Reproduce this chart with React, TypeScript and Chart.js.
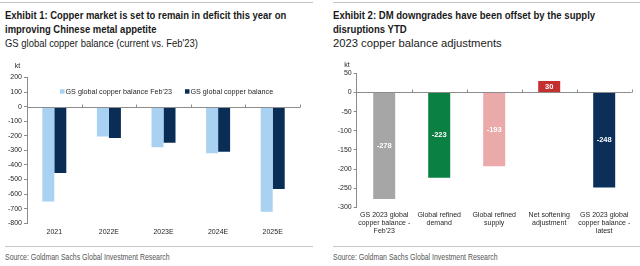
import React, { useEffect, useRef } from "react";
import { Chart, registerables } from "chart.js";

Chart.register(...registerables);

// ---- Exhibit 1: global copper balance by year (kt)
const balanceYears = ["2021", "2022E", "2023E", "2024E", "2025E"];
const balanceFeb23 = [-650, -205, -278, -320, -720];
const balanceCurrent = [-455, -215, -248, -310, -565];
const balanceSeriesNames = ["GS global copper balance Feb'23", "GS global copper balance"];

// ---- Exhibit 2: 2023 copper balance adjustments (kt)
const adjustmentLabels = [
  ["GS 2023 global", "copper balance -", "Feb'23"],
  ["Global refined", "demand"],
  ["Global refined", "supply"],
  ["Net softening", "adjustment"],
  ["GS 2023 global", "copper balance -", "latest"],
];
const adjustmentValues = [-278, -223, -193, 30, -248];

const ADJ_COLORS = ["#A6A6A6", "#0B8043", "#EAAAAA", "#C4302E", "#0B2F59"];
const FEB_COLOR = "#A9D2F2";
const CUR_COLOR = "#0A2D55";

const SANS = "'Liberation Sans', Arial, sans-serif";
const AXIS_COLOR = "#8C8C8C";
const TEXT_COLOR = "#262626";

// Horizontal zero line with small category tick marks
const zeroLine = {
  id: "zeroLine",
  afterDatasetsDraw(chart: any, _args: any, opts: any) {
    const { ctx, chartArea, scales } = chart;
    const y = Math.round(scales.y.getPixelForValue(0)) + 0.5;
    const n = chart.data.labels.length;
    const w = (chartArea.right - chartArea.left) / n;
    ctx.save();
    ctx.strokeStyle = opts.color || AXIS_COLOR;
    ctx.lineWidth = 1;
    ctx.beginPath();
    ctx.moveTo(chartArea.left, y);
    ctx.lineTo(chartArea.right, y);
    for (let i = 1; i <= n; i++) {
      const x = Math.round(chartArea.left + i * w) + 0.5;
      ctx.moveTo(x, y);
      ctx.lineTo(x, y - 3);
    }
    ctx.stroke();
    ctx.restore();
  },
};

// Unit caption above the value axis
const unitLabel = {
  id: "unitLabel",
  afterDraw(chart: any, _args: any, opts: any) {
    if (!opts.text) return;
    const { ctx, chartArea } = chart;
    ctx.save();
    ctx.font = `7px ${SANS}`;
    ctx.fillStyle = TEXT_COLOR;
    ctx.textAlign = "center";
    ctx.textBaseline = "middle";
    ctx.fillText(opts.text, chartArea.left + opts.dx, chartArea.top + opts.dy);
    ctx.restore();
  },
};

// Inline legend drawn inside the plot area
const innerLegend = {
  id: "innerLegend",
  afterDraw(chart: any, _args: any, opts: any) {
    if (!opts.show) return;
    const { ctx, chartArea } = chart;
    ctx.save();
    ctx.font = `7.2px ${SANS}`;
    ctx.textBaseline = "middle";
    let x = chartArea.left + opts.dx;
    const y = chartArea.top + opts.dy;
    chart.data.datasets.forEach((ds: any) => {
      ctx.fillStyle = ds.backgroundColor;
      ctx.fillRect(x, y - 2.5, 4.5, 4.5);
      x += 5.5;
      ctx.fillStyle = TEXT_COLOR;
      ctx.fillText(ds.label, x, y);
      x += ctx.measureText(ds.label).width + 13;
    });
    ctx.restore();
  },
};

// White value labels centred inside each bar
const barValues = {
  id: "barValues",
  afterDatasetsDraw(chart: any, _args: any, opts: any) {
    if (!opts.show) return;
    const { ctx } = chart;
    ctx.save();
    ctx.font = `bold 7.5px ${SANS}`;
    ctx.fillStyle = "#FFFFFF";
    ctx.textAlign = "center";
    ctx.textBaseline = "middle";
    chart.data.datasets.forEach((ds: any, di: number) => {
      chart.getDatasetMeta(di).data.forEach((bar: any, i: number) => {
        ctx.fillText(String(ds.data[i]), bar.x, (bar.y + bar.base) / 2);
      });
    });
    ctx.restore();
  },
};

function axisOptions(opts: {
  min: number;
  max: number;
  step: number;
  yWidth: number;
  xHeight: number;
  xPadding: number;
  lineHeight: number;
}) {
  return {
    x: {
      grid: { display: false, drawTicks: false },
      border: { display: false },
      ticks: {
        font: { family: SANS, size: 7, lineHeight: opts.lineHeight },
        color: TEXT_COLOR,
        padding: opts.xPadding,
        maxRotation: 0,
        autoSkip: false,
      },
      afterFit(scale: any) {
        scale.height = opts.xHeight;
      },
    },
    y: {
      min: opts.min,
      max: opts.max,
      ticks: {
        stepSize: opts.step,
        font: { family: SANS, size: 7 },
        color: TEXT_COLOR,
        padding: 2,
      },
      grid: { drawOnChartArea: false, drawTicks: true, tickLength: 3, color: AXIS_COLOR },
      border: { display: true, color: AXIS_COLOR },
      afterFit(scale: any) {
        scale.width = opts.yWidth;
      },
    },
  };
}

function BalanceChart() {
  const ref = useRef<HTMLCanvasElement>(null);
  useEffect(() => {
    const chart = new Chart(ref.current!, {
      type: "bar",
      data: {
        labels: balanceYears,
        datasets: [
          { label: balanceSeriesNames[0], data: balanceFeb23, backgroundColor: FEB_COLOR },
          { label: balanceSeriesNames[1], data: balanceCurrent, backgroundColor: CUR_COLOR },
        ],
      },
      options: {
        responsive: false,
        animation: false,
        devicePixelRatio: 1,
        categoryPercentage: 0.44,
        barPercentage: 1,
        layout: { padding: { top: 27.5, right: 18, bottom: 0, left: 0 } },
        plugins: {
          legend: { display: false },
          tooltip: { enabled: false },
          zeroLine: { color: AXIS_COLOR },
          unitLabel: { text: "kt", dx: -9.5, dy: -11 },
          innerLegend: { show: true, dx: 33, dy: 14.2 },
          barValues: { show: false },
        } as any,
        scales: axisOptions({
          min: -800,
          max: 200,
          step: 100,
          yWidth: 27,
          xHeight: 18.7,
          xPadding: 4.2,
          lineHeight: 1.2,
        }) as any,
      },
      plugins: [zeroLine, unitLabel, innerLegend, barValues],
    });
    return () => chart.destroy();
  }, []);
  return <canvas ref={ref} width={318} height={192} style={{ width: 318, height: 192 }} />;
}

function AdjustmentChart() {
  const ref = useRef<HTMLCanvasElement>(null);
  useEffect(() => {
    const chart = new Chart(ref.current!, {
      type: "bar",
      data: {
        labels: adjustmentLabels,
        datasets: [
          { label: "2023 copper balance adjustments", data: adjustmentValues, backgroundColor: ADJ_COLORS },
        ],
      },
      options: {
        responsive: false,
        animation: false,
        devicePixelRatio: 1,
        categoryPercentage: 1,
        barPercentage: 0.4,
        layout: { padding: { top: 23.3, right: 8.3, bottom: 0, left: 0 } },
        plugins: {
          legend: { display: false },
          tooltip: { enabled: false },
          zeroLine: { color: AXIS_COLOR },
          unitLabel: { text: "kt", dx: -9.7, dy: -8.5 },
          innerLegend: { show: false },
          barValues: { show: true },
        } as any,
        scales: axisOptions({
          min: -300,
          max: 50,
          step: 50,
          yWidth: 36.7,
          xHeight: 32.7,
          xPadding: 3.5,
          lineHeight: 1.186,
        }) as any,
      },
      plugins: [zeroLine, unitLabel, innerLegend, barValues],
    });
    return () => chart.destroy();
  }, []);
  return <canvas ref={ref} width={320} height={190} style={{ width: 320, height: 190 }} />;
}

const abs = (left: number, top: number, extra: React.CSSProperties = {}): React.CSSProperties => ({
  position: "absolute",
  left,
  top,
  margin: 0,
  whiteSpace: "nowrap",
  ...extra,
});

// Condensed-looking text block: regular sans squeezed horizontally
const squeeze = (k: number): React.CSSProperties => ({
  transform: `scaleX(${k})`,
  transformOrigin: "0 0",
});

const titleStyle: React.CSSProperties = {
  fontFamily: SANS,
  fontWeight: "bold",
  fontSize: 11,
  lineHeight: "13.6px",
  color: "#1A1A1A",
};
const subtitleStyle: React.CSSProperties = {
  fontFamily: SANS,
  fontSize: 10.5,
  lineHeight: "13px",
  color: "#1A1A1A",
};
const sourceStyle: React.CSSProperties = {
  fontFamily: SANS,
  fontSize: 9.5,
  lineHeight: "12px",
  color: "#555555",
};

export default function App() {
  return (
    <div
      style={{
        position: "fixed",
        left: 0,
        top: 0,
        width: 640,
        height: 266,
        background: "#FFFFFF",
        overflow: "hidden",
      }}
    >
      {/* rules */}
      <div style={abs(0, 1.5, { width: 313, height: 1.5, background: "#C4C4C4" })} />
      <div style={abs(333, 1.5, { width: 307, height: 1.5, background: "#C4C4C4" })} />
      <div style={abs(5, 246, { width: 308, height: 1, background: "#C8C8C8" })} />
      <div style={abs(333, 246, { width: 307, height: 1, background: "#C8C8C8" })} />

      {/* Exhibit 1 text */}
      <div style={abs(5, 9, { ...titleStyle, ...squeeze(0.86) })}>
        Exhibit 1: Copper market is set to remain in deficit this year on
        <br />
        improving Chinese metal appetite
      </div>
      <div style={abs(5, 36.5, { ...subtitleStyle, ...squeeze(0.9) })}>
        GS global copper balance (current vs. Feb'23)
      </div>
      <div style={abs(5, 251, { ...sourceStyle, ...squeeze(0.73) })}>
        Source: Goldman Sachs Global Investment Research
      </div>

      {/* Exhibit 2 text */}
      <div style={abs(333, 9, { ...titleStyle, ...squeeze(0.87) })}>
        Exhibit 2: DM downgrades have been offset by the supply
        <br />
        disruptions YTD
      </div>
      <div style={abs(333, 36.5, { ...subtitleStyle, ...squeeze(1.07) })}>2023 copper balance adjustments</div>
      <div style={abs(333, 251, { ...sourceStyle, ...squeeze(0.73) })}>
        Source: Goldman Sachs Global Investment Research
      </div>

      <div style={abs(0, 50)}>
        <BalanceChart />
      </div>
      <div style={abs(320, 50)}>
        <AdjustmentChart />
      </div>
    </div>
  );
}
